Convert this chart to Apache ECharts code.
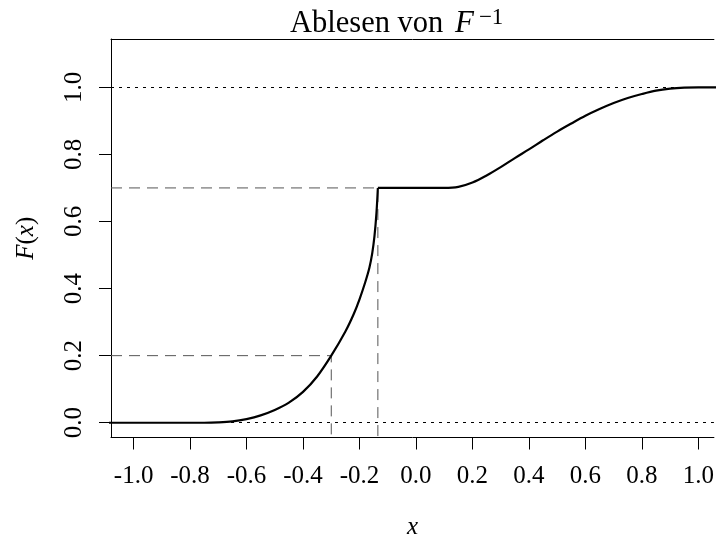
<!DOCTYPE html>
<html>
<head>
<meta charset="utf-8">
<script src="https://cdn.jsdelivr.net/npm/echarts@6/dist/echarts.min.js"></script>
<style>
  html, body { margin: 0; padding: 0; background: #fff; }
  #chart { width: 717px; height: 545px; }
</style>
</head>
<body>
<div id="chart"></div>
<script>
// values
const curveX = [-1.10, -0.75, -0.70, -0.65, -0.60, -0.55, -0.50, -0.45, -0.40, -0.35, -0.30, -0.25, -0.22, -0.20,
  -0.18, -0.165, -0.155, -0.147, -0.14, -0.135, 0.10, 0.15, 0.20, 0.25, 0.30, 0.35, 0.40, 0.45, 0.50, 0.55, 0.60,
  0.65, 0.70, 0.75, 0.80, 0.85, 0.90, 0.95, 1.00, 1.10];
const curveF = [0, 0, 0.001, 0.004, 0.011, 0.022, 0.038, 0.060, 0.092, 0.138, 0.200, 0.272, 0.325, 0.368,
  0.418, 0.462, 0.505, 0.556, 0.625, 0.700, 0.700, 0.703, 0.716, 0.737, 0.762, 0.789, 0.815, 0.842, 0.868, 0.892, 0.915,
  0.935, 0.953, 0.968, 0.980, 0.990, 0.996, 0.999, 1.000, 1.000];

const levels = [0.2, 0.7];
const quantiles = [-0.30, -0.135];
const refLines = [0, 1];

const xTicks = [-1.0, -0.8, -0.6, -0.4, -0.2, 0.0, 0.2, 0.4, 0.6, 0.8, 1.0];
const yTicks = [0.0, 0.2, 0.4, 0.6, 0.8, 1.0];

// the picture is cut at the right, so the visible x range ends near 1.055
const xMin = -1.08, xMax = 1.055;
const yMin = -0.044, yMax = 1.144;

const serif = 'Liberation Serif';

const chart = echarts.init(document.getElementById('chart'));

// split the curve at the corner where the flat part starts, so smoothing does not bulge
const kink = curveX.indexOf(-0.135);
const points = curveX.map((x, i) => [x, curveF[i]]);
const curveParts = [points.slice(0, kink + 1), points.slice(kink)];

const dashSeries = levels.map((p, i) => ({
  type: 'line',
  data: [[xMin, p], [quantiles[i], p], [quantiles[i], yMin]],
  symbol: 'none',
  silent: true,
  lineStyle: { color: '#555', width: 1, type: [11, 7] },
  z: 2,
}));

const curveSeries = curveParts.map((part, i) => ({
  type: 'line',
  data: part,
  symbol: 'none',
  silent: true,
  smooth: 0.35,
  lineStyle: { color: '#000', width: 2.2 },
  z: 3,
  markLine: i === 0 ? {
    silent: true,
    symbol: 'none',
    label: { show: false },
    lineStyle: { color: '#000', width: 1, type: [3, 5] },
    data: refLines.map(v => ({ yAxis: v })),
  } : undefined,
}));

const option = {
  animation: false,
  title: {
    text: '{a|Ablesen von }{f|F}{s|−1}',
    left: 290,
    top: 6,
    padding: 0,
    textStyle: {
      rich: {
        a: { fontFamily: serif, fontSize: 30.5, fontWeight: 'normal', color: '#000' },
        f: { fontFamily: serif, fontSize: 31, fontWeight: 'normal', fontStyle: 'italic', color: '#000', padding: [0, 5, 0, 4] },
        s: { fontFamily: serif, fontSize: 23, fontWeight: 'normal', color: '#000', padding: [0, 0, 12, 0] },
      },
    },
  },
  grid: {
    left: 111,
    top: 39,
    width: 606,
    height: 406,
    show: true,
    borderWidth: 0,
    backgroundColor: 'transparent',
  },
  xAxis: [
    {
      type: 'value',
      min: xMin,
      max: xMax,
      name: 'x',
      nameLocation: 'middle',
      nameGap: 82,
      nameTextStyle: { fontFamily: serif, fontStyle: 'italic', fontSize: 25, lineHeight: 16, color: '#000' },
      axisLine: { show: true, onZero: false, lineStyle: { color: '#000', width: 1 } },
      splitLine: { show: false },
      axisTick: { show: true, inside: false, length: 12, customValues: xTicks, lineStyle: { color: '#000', width: 1 } },
      axisLabel: {
        customValues: xTicks,
        formatter: v => v.toFixed(1),
        fontFamily: serif,
        fontSize: 25,
        width: 30,
        overflow: 'none',
        color: '#000',
        margin: 26,
      },
    },
    {
      // top edge of the plot box
      type: 'value',
      position: 'top',
      min: xMin,
      max: xMax,
      axisLine: { show: true, onZero: false, lineStyle: { color: '#000', width: 1 } },
      axisTick: { show: false },
      axisLabel: { show: false },
      splitLine: { show: false },
    },
  ],
  yAxis: {
    type: 'value',
    min: yMin,
    max: yMax,
    name: '{i|F}{r|(}{i|x}{r|)}',
    nameLocation: 'middle',
    nameGap: 72,
    nameRotate: 90,
    nameTextStyle: {
      rich: {
        i: { fontFamily: serif, fontStyle: 'italic', fontSize: 25, color: '#000' },
        r: { fontFamily: serif, fontSize: 25, color: '#000' },
      },
    },
    axisLine: { show: true, onZero: false, lineStyle: { color: '#000', width: 1 } },
    splitLine: { show: false },
    axisTick: { show: true, inside: false, length: 12, customValues: yTicks, lineStyle: { color: '#000', width: 1 } },
    axisLabel: {
      customValues: yTicks,
      formatter: v => v.toFixed(1),
      rotate: 90,
      fontFamily: serif,
      fontSize: 25,
      color: '#000',
      margin: 24,
    },
  },
  series: [...curveSeries, ...dashSeries],
};

chart.setOption(option);
</script>
</body>
</html>
